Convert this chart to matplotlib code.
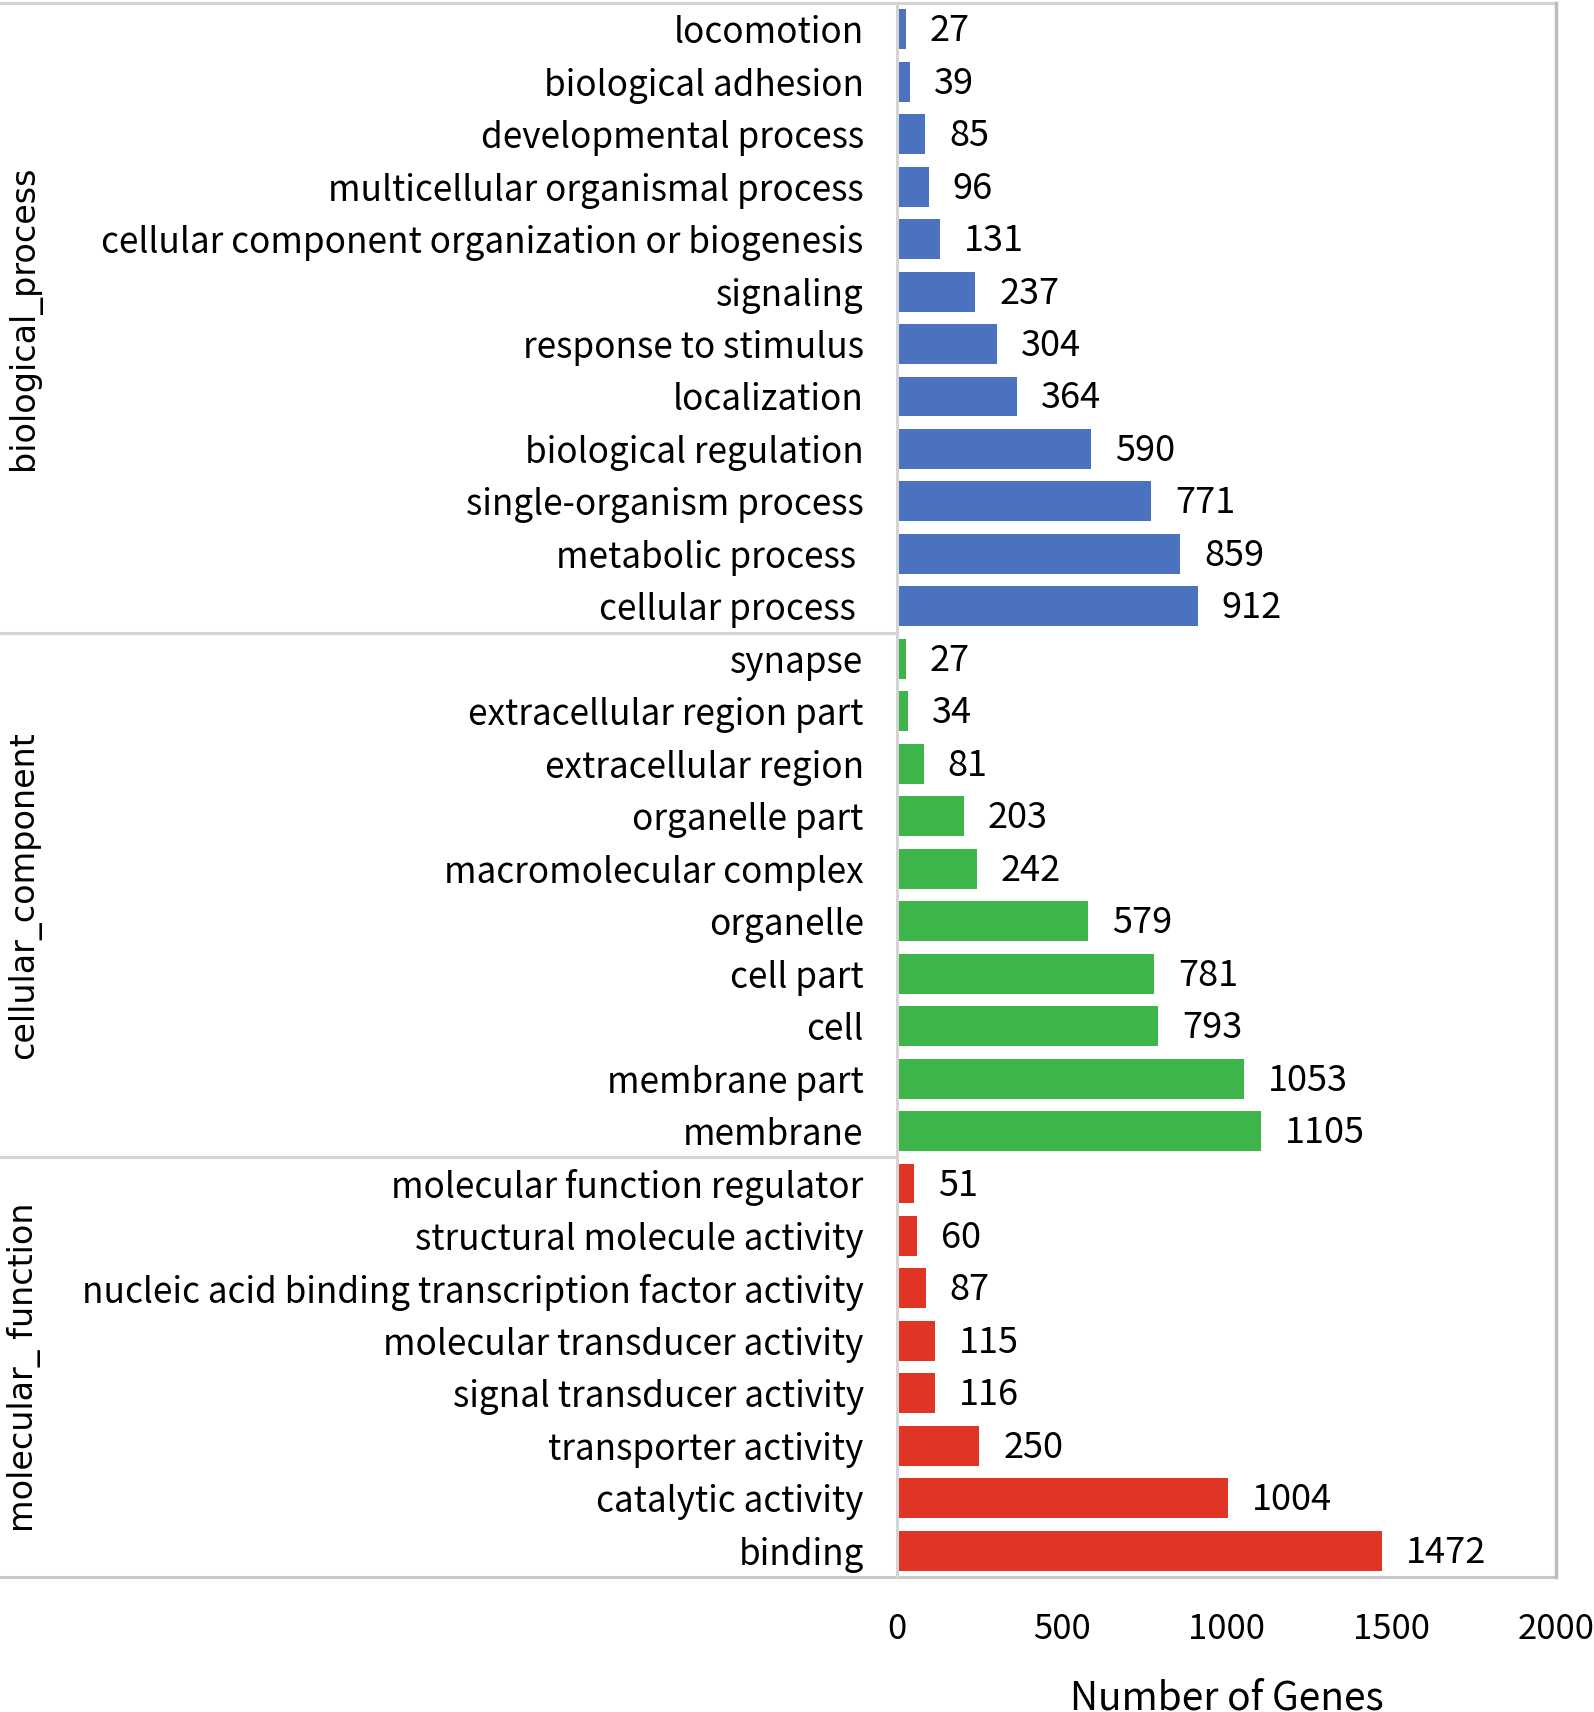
import matplotlib
matplotlib.use("Agg")
import matplotlib.pyplot as plt
from matplotlib.lines import Line2D

# categories top -> bottom
bp_terms = ["locomotion", "biological adhesion", "developmental process",
            "multicellular organismal process",
            "cellular component organization or biogenesis", "signaling",
            "response to stimulus", "localization", "biological regulation",
            "single-organism process", "metabolic process ", "cellular process "]
bp_counts = [27, 39, 85, 96, 131, 237, 304, 364, 590, 771, 859, 912]

cc_terms = ["synapse", "extracellular region part", "extracellular region",
            "organelle part", "macromolecular complex", "organelle", "cell part",
            "cell", "membrane part", "membrane"]
cc_counts = [27, 34, 81, 203, 242, 579, 781, 793, 1053, 1105]

mf_terms = ["molecular function regulator", "structural molecule activity",
            "nucleic acid binding transcription factor activity",
            "molecular transducer activity", "signal transducer activity",
            "transporter activity", "catalytic activity", "binding"]
mf_counts = [51, 60, 87, 115, 116, 250, 1004, 1472]

groups = ["biological_process", "cellular_component", "molecular_ function"]
colors = ["#4a72bf", "#3db54a", "#e03424"]
xticks = [0, 500, 1000, 1500, 2000]

lab_font = ["Noto Sans CJK SC", "DejaVu Sans"]

fig = plt.figure(figsize=(15.94, 17.12), dpi=100)
ax = fig.add_axes([897/1594, 135/1712, 659/1594, 1574/1712])

all_terms = bp_terms + cc_terms + mf_terms
pos = 0
group_spans = []
for terms, counts, col in zip([bp_terms, cc_terms, mf_terms],
                              [bp_counts, cc_counts, mf_counts], colors):
    ys = list(range(pos, pos + len(terms)))
    ax.barh(ys, counts, height=0.76, color=col)
    for y, c in zip(ys, counts):
        ax.annotate(str(c), (c, y), xytext=(24, -2), textcoords="offset pixels",
                    ha="left", va="center", fontsize=26, family=lab_font)
    group_spans.append((pos, pos + len(terms)))
    pos += len(terms)

n = len(all_terms)
ax.set_ylim(n - 0.5, -0.5)
ax.set_xlim(0, 2000)
ax.set_yticks(range(n))
ax.set_yticklabels(all_terms, fontsize=25.3, family=lab_font)
ax.set_xticks(xticks)
ax.set_xticklabels([str(t) for t in xticks], fontsize=25, family=lab_font)
ax.tick_params(axis="y", length=0, pad=24)
ax.tick_params(axis="x", length=0, pad=25)
ax.set_xlabel("Number of Genes", fontsize=28, family=lab_font, labelpad=23)

for s in ["top", "bottom"]:
    ax.spines[s].set_visible(False)
ax.spines["left"].set_color("#d4d4d4")
ax.spines["left"].set_linewidth(2.2)
ax.spines["right"].set_color("#bdbdbd")
ax.spines["right"].set_linewidth(2.5)

# frame and group separators reaching to the left edge of the figure
x0 = -897 / 659
line_kw = dict(transform=ax.transAxes, color="#d4d4d4", lw=2.2, clip_on=False)
ax.add_line(Line2D([x0, 1], [1, 1], **line_kw))
ax.add_line(Line2D([x0, 1], [0, 0], **dict(line_kw, color="#c8c8c8")))
for a, b in group_spans[:-1]:
    yb = 1 - b / n
    ax.add_line(Line2D([x0, 0], [yb, yb], **line_kw))

for (a, b), g in zip(group_spans, groups):
    yc = 1 - ((a + b) / 2) / n
    ax.text((24 - 897) / 659, yc, g, transform=ax.transAxes, rotation=90,
            ha="center", va="center", fontsize=24, family="DejaVu Sans")

fig.savefig("out.png", dpi=100)
